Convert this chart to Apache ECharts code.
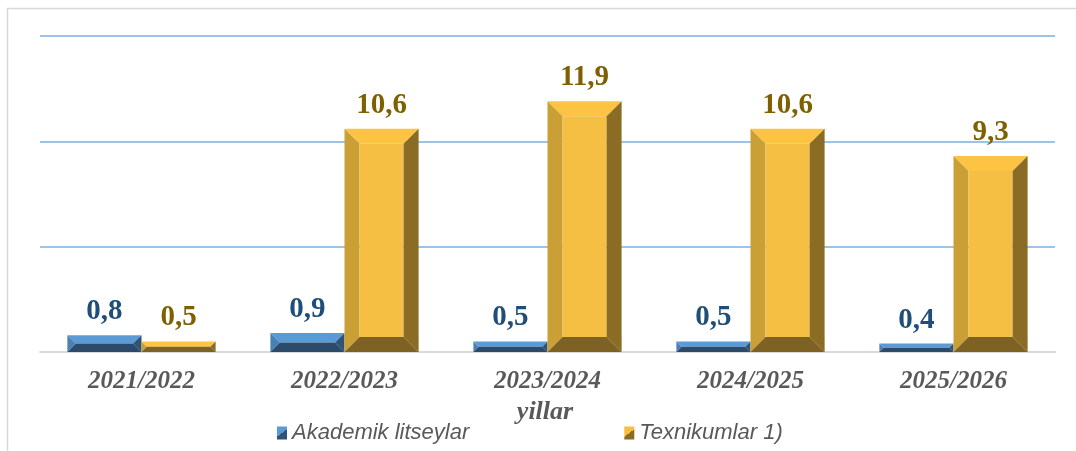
<!DOCTYPE html>
<html>
<head>
<meta charset="utf-8">
<script src="https://cdn.jsdelivr.net/npm/echarts@6/dist/echarts.min.js"></script>
<style>
  html, body { margin: 0; padding: 0; background: #fff; }
  #chart { width: 1076px; height: 451px; }
</style>
</head>
<body>
<div id="chart"></div>
<script>
const years = ['2021/2022', '2022/2023', '2023/2024', '2024/2025', '2025/2026']
const akademik = [0.8, 0.9, 0.5, 0.5, 0.4]
const texnikum = [0.5, 10.6, 11.9, 10.6, 9.3]

// bevel face colours: top, left, front, right, bottom
const blueFaces = ['#5b9bd5', '#4a80b8', '#4f88c4', '#2f5276', '#2c4a6a']
const goldFaces = ['#fdc443', '#c99f36', '#f4bf42', '#8b6c24', '#7d6224']

const fmt = v => String(v).replace('.', ',')

// split square for legend icon
const splitFill = (light, dark) => new echarts.graphic.LinearGradient(0, 0, 1, 1, [
  { offset: 0, color: light }, { offset: 0.5, color: light },
  { offset: 0.5, color: dark }, { offset: 1, color: dark }
])

function bevelRender(faces, labelColor, side) {
  return function (params, api) {
    const cat = api.value(0)
    const val = api.value(1)
    const base = api.coord([cat, 0])
    const top = api.coord([cat, val])
    const band = api.size([1, 0])[0]
    const w = band * 0.365
    const x0 = side < 0 ? base[0] - w : base[0]
    const x1 = x0 + w
    const y0 = top[1]
    const y1 = base[1]
    const h = y1 - y0
    const b = Math.min(15, h / 2, w / 2)
    const poly = (pts, fill) => ({ type: 'polygon', shape: { points: pts }, style: { fill: fill } })
    return {
      type: 'group',
      children: [
        poly([[x0, y0], [x1, y0], [x1 - b, y0 + b], [x0 + b, y0 + b]], faces[0]),
        poly([[x0, y0], [x0 + b, y0 + b], [x0 + b, y1 - b], [x0, y1]], faces[1]),
        { type: 'rect', shape: { x: x0 + b, y: y0 + b, width: w - 2 * b, height: Math.max(0, h - 2 * b) }, style: { fill: faces[2] } },
        poly([[x1, y0], [x1, y1], [x1 - b, y1 - b], [x1 - b, y0 + b]], faces[3]),
        poly([[x0, y1], [x0 + b, y1 - b], [x1 - b, y1 - b], [x1, y1]], faces[4]),
        {
          type: 'text',
          style: {
            x: (x0 + x1) / 2, y: y0 - 9,
            text: fmt(val),
            fill: labelColor,
            font: 'bold 29px "Liberation Serif", serif',
            align: 'center', verticalAlign: 'bottom'
          }
        }
      ]
    }
  }
}

const chart = echarts.init(document.getElementById('chart'))
chart.setOption({
  animation: false,
  graphic: [{
    type: 'rect',
    shape: { x: 7.5, y: 8.5, width: 1100, height: 460 },
    style: { fill: 'none', stroke: '#d9d9d9', lineWidth: 1.5 }
  }, {
    type: 'text',
    x: 545, y: 412,
    style: {
      text: 'yillar',
      font: 'italic bold 26px "Liberation Serif", serif',
      fill: '#595959',
      align: 'center', verticalAlign: 'middle'
    }
  }],
  grid: { left: 40, right: 21, top: 36, bottom: 99 },
  legend: {
    top: 417,
    left: 272,
    itemGap: 155,
    itemWidth: 10,
    itemHeight: 13,
    icon: 'rect',
    textStyle: { fontFamily: 'Liberation Sans', fontStyle: 'italic', fontSize: 22, color: '#595959' },
    data: [
      { name: 'Akademik litseylar', itemStyle: { color: splitFill('#5b9bd5', '#2f5276') } },
      { name: 'Texnikumlar 1)', itemStyle: { color: splitFill('#f4bf42', '#8b6c24') } }
    ]
  },
  xAxis: {
    type: 'category',
    data: years,
    axisLine: { lineStyle: { color: '#d9d9d9', width: 2 } },
    axisTick: { show: false },
    axisLabel: {
      margin: 17,
      fontFamily: 'Liberation Serif',
      fontStyle: 'italic', fontWeight: 'bold', fontSize: 25, color: '#595959'
    }
  },
  yAxis: {
    type: 'value',
    min: 0, max: 15, interval: 5,
    axisLabel: { show: false },
    axisLine: { show: false },
    axisTick: { show: false },
    splitLine: { lineStyle: { color: '#9dc3e6', width: 2 } }
  },
  series: [
    {
      name: 'Akademik litseylar',
      type: 'custom',
      renderItem: bevelRender(blueFaces, '#1f4e79', -1),
      data: akademik.map((v, i) => [i, v]),
      itemStyle: { color: '#4f88c4' },
      z: 3
    },
    {
      name: 'Texnikumlar 1)',
      type: 'custom',
      renderItem: bevelRender(goldFaces, '#7f6000', 1),
      data: texnikum.map((v, i) => [i, v]),
      itemStyle: { color: '#e0ae3a' },
      z: 3
    }
  ]
})
window.addEventListener('resize', () => chart.resize())
</script>
</body>
</html>
